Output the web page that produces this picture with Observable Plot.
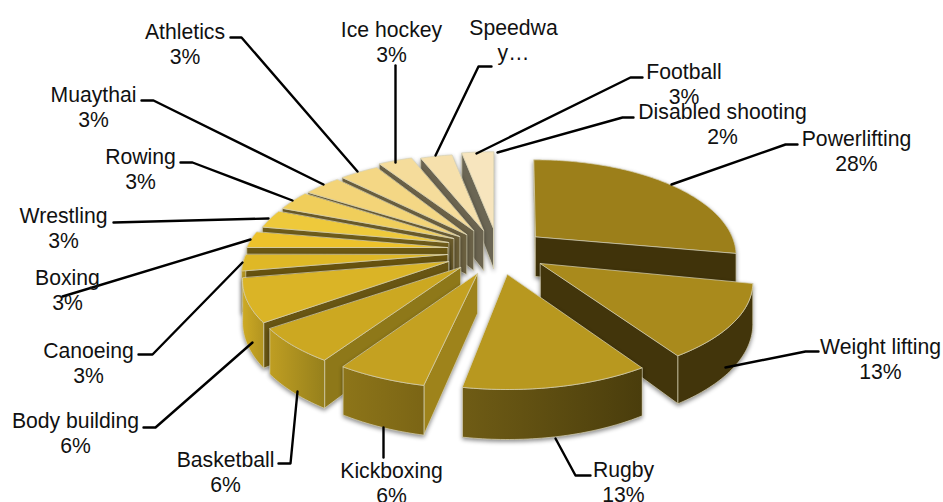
<!DOCTYPE html>
<html>
<head>
<meta charset="utf-8">
<script src="https://cdn.jsdelivr.net/npm/d3@7"></script>
<script src="https://cdn.jsdelivr.net/npm/@observablehq/plot@0.6"></script>
<style>
html,body{margin:0;padding:0;background:#fff}
svg{display:block}
</style>
</head>
<body>
<div id="chart"></div>
<script>
// ---- data (clockwise from the top) ----
const categories = ["Powerlifting","Weight lifting","Rugby","Kickboxing","Basketball","Body building","Canoeing","Boxing","Wrestling","Rowing","Muaythai","Athletics","Ice hockey","Speedway","Football","Disabled shooting"];
const shares = [28,13,13,6,6,6,3,3,3,3,3,3,3,3,3,2];
const labelLines = [["Powerlifting","28%"],["Weight lifting","13%"],["Rugby","13%"],["Kickboxing","6%"],["Basketball","6%"],["Body building","6%"],["Canoeing","3%"],["Boxing","3%"],["Wrestling","3%"],["Rowing","3%"],["Muaythai","3%"],["Athletics","3%"],["Ice hockey","3%"],["Speedwa","y…"],["Football","3%"],["Disabled shooting","2%"]];

// ---- styles ----
const topColors = ["#9C7F1A","#A98A1C","#B8981F","#C4A121","#CCA821","#DAB426","#DFB826","#EDC22B","#EEC93B","#F0CE5B","#F3D478","#F4D785","#F5DC9B","#F6E0AC","#F7E5BE","#FFFFFF"];
const wallColors = ["#40330A","#42350B","#4A3D0C","#9E831B","#8E7819","#685513","#66520F","#6A5713","#6E5C1B","#6A5B2A","#6B5E36","#6B6040","#6B6248","#6B6450","#6B6654","#FFFFFF"];
const outerStops = [null,["#42350B","#42350B"],["#6F5C15","#4A3D0C"],["#8D7519","#7B6515"],["#BF9E22","#96801C"],["#CDAA24","#B29420"],["#B29420","#B29420"],null,null,null,null,null,null,null,null,null];

// ---- layout: where each exploded slice's point sits, and how the disc is foreshortened ----
const apexX = [535,540,507,477,460,448,447,447,448,453,459,466,473,483,493,497];
const apexY = [236,263,274,273,267,261,254,247,242,238,236,234,230,230,228,228];
const rimScale = [0.945,1,1,1,1,0.97,0.97,0.965,0.94,0.94,0.95,0.965,1,1,1,1];
const startTurn = [-0.6,1.2,-0.1,-2.4,-3,-3.6,0.8,0,-0.8,-1.1,-0.4,1.8,4,4.2,3.9,3.6];
const endTurn = [-0.8,-1,-4.4,-3.5,-3.6,0.8,0,-0.8,-0.4,0.3,1.8,4.4,4.4,3.9,3.6,3.6];
const paintOrder = [15,14,13,12,11,10,9,8,7,6,5,4,0,1,3,2];
const discX = 208, discY = 92, tilt = 0.2, depth = 40;
const labelX = [856,880,623,391,225,75,88,67,63,140,93,184.5,391,513,683.5,722];
const labelY = [150,358,481,482,471,432,362,289,227,168,106,43,41,39,83,123];
const leaderPaths = [
  {s:0,  xs:[797,785,671], ys:[144,144,184]},
  {s:1,  xs:[818,805,725], ys:[351,351,367]},
  {s:2,  xs:[590,575,555], ys:[475,475,438]},
  {s:3,  xs:[383,383],     ys:[457,427]},
  {s:4,  xs:[278,290,297], ys:[463,463,391]},
  {s:5,  xs:[143,155,252], ys:[427,427,342]},
  {s:6,  xs:[138,152,242], ys:[354,354,262]},
  {s:7,  xs:[62,250],      ys:[296,239]},
  {s:8,  xs:[113,268],     ys:[222,218]},
  {s:9,  xs:[180,192,292], ys:[162,162,200]},
  {s:10, xs:[141,153,323], ys:[100,100,184]},
  {s:11, xs:[230,241,357], ys:[37,37,171]},
  {s:12, xs:[395,395],     ys:[65,162]},
  {s:13, xs:[491,478,435], ys:[66,66,155]},
  {s:14, xs:[642,630,476], ys:[77,77,153]},
  {s:15, xs:[633,622,497], ys:[117,117,152]}
];

// ---- geometry derived from the shares ----
const rad = d => d * Math.PI / 180;
const stops = d3.cumsum(shares).map(v => v * 3.6);
function rim(i, deg) {
  const t = rad(deg), f = 1 / (1 + tilt * Math.cos(t));
  return {
    x: apexX[i] + rimScale[i] * discX * Math.sin(t) * f,
    y: apexY[i] - discY * Math.cos(t) * f,
    drop: depth * f
  };
}
function sliceFaces(i) {
  const a0 = (i ? stops[i - 1] : 0) + startTurn[i], a1 = stops[i] + endTurn[i];
  const angles = d3.range(a0, a1, 1).concat(a1);
  const arc = angles.map(d => rim(i, d));
  const apex = {x: apexX[i], y: apexY[i], drop: depth};
  const rows = [];
  const push = (face, fill, pts) => pts.forEach(p => rows.push({face: `${i}-${face}`, fill, x: p.x, y: p.y}));
  const below = p => ({x: p.x, y: p.y + p.drop});
  const wall = wallColors[i];
  if (Math.sin(rad(a0)) < 0) push("a", wall, [apex, arc[0], below(arc[0]), below(apex)]);
  if (Math.sin(rad(a1)) > 0) push("b", wall, [apex, arc[arc.length - 1], below(arc[arc.length - 1]), below(apex)]);
  if (outerStops[i]) {
    const front = angles.flatMap((d, k) => Math.cos(rad(d)) < 0.1 ? [arc[k]] : []);
    const outerFill = outerStops[i][0] === outerStops[i][1] ? outerStops[i][0] : `url(#outer${i})`;
    if (front.length > 1) push("c", outerFill, front.concat(front.map(below).reverse()));
  }
  push("d", topColors[i], [apex, ...arc]);
  return rows;
}

const gradientDefs = () => {
  const defs = d3.create("svg:defs");
  outerStops.forEach((s, i) => {
    if (!s) return;
    const g = defs.append("linearGradient").attr("id", `outer${i}`);
    g.append("stop").attr("offset", 0).attr("stop-color", s[0]);
    g.append("stop").attr("offset", 1).attr("stop-color", s[1]);
  });
  return defs.node();
};

const sliceMarks = paintOrder.map(i => Plot.line(sliceFaces(i), {
  x: "x", y: "y", z: "face", fill: "fill", curve: "linear-closed",
  stroke: i === 15 ? "none" : "#D8D2B4", strokeWidth: 0.7,
  imageFilter: i === 15 ? undefined : "drop-shadow(0px 2px 2px rgba(0,0,0,0.45))"
}));

const leaderRows = leaderPaths.flatMap(l => l.xs.map((x, k) => ({s: l.s, x, y: l.ys[k]})));
const labelRows = categories.map((c, i) => ({c, x: labelX[i], y: labelY[i], text: labelLines[i].join("\n")}));

const plot = Plot.plot({
  width: 943, height: 502, margin: 0,
  x: {axis: null, domain: [0, 943], range: [0, 943]},
  y: {axis: null, domain: [0, 502], range: [0, 502]},
  color: {type: "identity"},
  style: {background: "#fff", overflow: "visible"},
  marks: [
    gradientDefs,
    ...sliceMarks,
    Plot.line(leaderRows, {x: "x", y: "y", z: "s", stroke: "#000", strokeWidth: 2.4, curve: "linear"}),
    Plot.text(labelRows, {x: "x", y: "y", text: "text", textAnchor: "middle", lineAnchor: "middle", lineHeight: 1.155,
      fontFamily: "Liberation Sans, Arial, sans-serif", fontSize: 21.2, fill: "#111"})
  ]
});
document.getElementById("chart").appendChild(plot);
</script>
</body>
</html>
